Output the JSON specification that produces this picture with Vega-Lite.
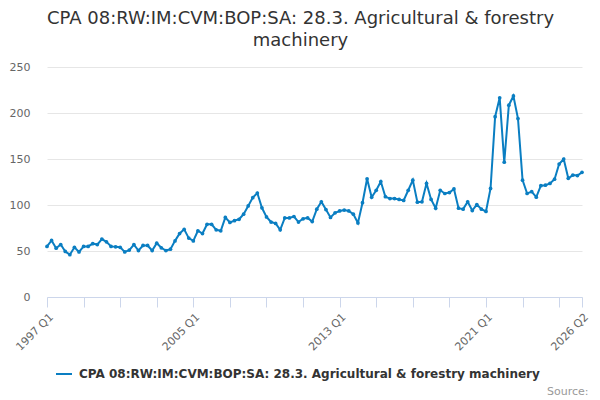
{
  "$schema": "https://vega.github.io/schema/vega-lite/v6.json",
  "width": 535,
  "height": 230,
  "autosize": {"type": "none"},
  "padding": {"left": 47, "top": 67, "right": 18, "bottom": 103},
  "background": "white",
  "title": {
    "text": ["CPA 08:RW:IM:CVM:BOP:SA: 28.3. Agricultural & forestry", "machinery"],
    "font": "DejaVu Sans",
    "fontSize": 18,
    "fontWeight": "normal",
    "color": "#333333",
    "anchor": "middle",
    "dx": -14,
    "offset": 11,
    "lineHeight": 22
  },
  "config": {
    "view": {"stroke": null},
    "font": "DejaVu Sans"
  },
  "data": {
    "values": [
      {"q": "1997 Q1", "v": 55}, {"q": "1997 Q2", "v": 61.5}, {"q": "1997 Q3", "v": 53}, {"q": "1997 Q4", "v": 57},
      {"q": "1998 Q1", "v": 49.5}, {"q": "1998 Q2", "v": 46}, {"q": "1998 Q3", "v": 54}, {"q": "1998 Q4", "v": 49},
      {"q": "1999 Q1", "v": 55}, {"q": "1999 Q2", "v": 55}, {"q": "1999 Q3", "v": 58}, {"q": "1999 Q4", "v": 57},
      {"q": "2000 Q1", "v": 63}, {"q": "2000 Q2", "v": 60}, {"q": "2000 Q3", "v": 55}, {"q": "2000 Q4", "v": 54.5},
      {"q": "2001 Q1", "v": 54}, {"q": "2001 Q2", "v": 49}, {"q": "2001 Q3", "v": 51}, {"q": "2001 Q4", "v": 57},
      {"q": "2002 Q1", "v": 50.5}, {"q": "2002 Q2", "v": 56}, {"q": "2002 Q3", "v": 56}, {"q": "2002 Q4", "v": 50.5},
      {"q": "2003 Q1", "v": 58.5}, {"q": "2003 Q2", "v": 53.5}, {"q": "2003 Q3", "v": 50.5}, {"q": "2003 Q4", "v": 52},
      {"q": "2004 Q1", "v": 61}, {"q": "2004 Q2", "v": 69}, {"q": "2004 Q3", "v": 73.5}, {"q": "2004 Q4", "v": 64},
      {"q": "2005 Q1", "v": 61}, {"q": "2005 Q2", "v": 72}, {"q": "2005 Q3", "v": 69}, {"q": "2005 Q4", "v": 79},
      {"q": "2006 Q1", "v": 79}, {"q": "2006 Q2", "v": 73}, {"q": "2006 Q3", "v": 72}, {"q": "2006 Q4", "v": 86.5},
      {"q": "2007 Q1", "v": 81}, {"q": "2007 Q2", "v": 83}, {"q": "2007 Q3", "v": 84.5}, {"q": "2007 Q4", "v": 90},
      {"q": "2008 Q1", "v": 99}, {"q": "2008 Q2", "v": 108}, {"q": "2008 Q3", "v": 113}, {"q": "2008 Q4", "v": 97},
      {"q": "2009 Q1", "v": 87}, {"q": "2009 Q2", "v": 81.5}, {"q": "2009 Q3", "v": 80}, {"q": "2009 Q4", "v": 73},
      {"q": "2010 Q1", "v": 86}, {"q": "2010 Q2", "v": 86}, {"q": "2010 Q3", "v": 87.5}, {"q": "2010 Q4", "v": 81.5},
      {"q": "2011 Q1", "v": 85}, {"q": "2011 Q2", "v": 86}, {"q": "2011 Q3", "v": 82}, {"q": "2011 Q4", "v": 95.5},
      {"q": "2012 Q1", "v": 103.5}, {"q": "2012 Q2", "v": 95}, {"q": "2012 Q3", "v": 86.5}, {"q": "2012 Q4", "v": 91.5},
      {"q": "2013 Q1", "v": 93.5}, {"q": "2013 Q2", "v": 94.5}, {"q": "2013 Q3", "v": 93.5}, {"q": "2013 Q4", "v": 90},
      {"q": "2014 Q1", "v": 80.5}, {"q": "2014 Q2", "v": 102.5}, {"q": "2014 Q3", "v": 128.5}, {"q": "2014 Q4", "v": 108.5},
      {"q": "2015 Q1", "v": 116}, {"q": "2015 Q2", "v": 125.5}, {"q": "2015 Q3", "v": 109}, {"q": "2015 Q4", "v": 107},
      {"q": "2016 Q1", "v": 107}, {"q": "2016 Q2", "v": 106}, {"q": "2016 Q3", "v": 105}, {"q": "2016 Q4", "v": 116},
      {"q": "2017 Q1", "v": 127}, {"q": "2017 Q2", "v": 103}, {"q": "2017 Q3", "v": 103.5}, {"q": "2017 Q4", "v": 123.5},
      {"q": "2018 Q1", "v": 106}, {"q": "2018 Q2", "v": 96.5}, {"q": "2018 Q3", "v": 116}, {"q": "2018 Q4", "v": 112.5},
      {"q": "2019 Q1", "v": 113.5}, {"q": "2019 Q2", "v": 117.5}, {"q": "2019 Q3", "v": 96.5}, {"q": "2019 Q4", "v": 95.5},
      {"q": "2020 Q1", "v": 103.5}, {"q": "2020 Q2", "v": 94}, {"q": "2020 Q3", "v": 100.5}, {"q": "2020 Q4", "v": 95.5},
      {"q": "2021 Q1", "v": 93}, {"q": "2021 Q2", "v": 118}, {"q": "2021 Q3", "v": 196}, {"q": "2021 Q4", "v": 216.5},
      {"q": "2022 Q1", "v": 146.5}, {"q": "2022 Q2", "v": 208.5}, {"q": "2022 Q3", "v": 218.5}, {"q": "2022 Q4", "v": 194},
      {"q": "2023 Q1", "v": 127}, {"q": "2023 Q2", "v": 112.5}, {"q": "2023 Q3", "v": 114.5}, {"q": "2023 Q4", "v": 108.5},
      {"q": "2024 Q1", "v": 121}, {"q": "2024 Q2", "v": 121.5}, {"q": "2024 Q3", "v": 123.5}, {"q": "2024 Q4", "v": 128},
      {"q": "2025 Q1", "v": 144.5}, {"q": "2025 Q2", "v": 150}, {"q": "2025 Q3", "v": 129}, {"q": "2025 Q4", "v": 132.5},
      {"q": "2026 Q1", "v": 132}, {"q": "2026 Q2", "v": 135.5}
    ]
  },
  "mark": {
    "type": "line",
    "strokeWidth": 2,
    "point": {"filled": true, "size": 14}
  },
  "encoding": {
    "x": {
      "field": "q",
      "type": "ordinal",
      "sort": null,
      "scale": {"type": "point", "padding": 0},
      "axis": {
        "values": ["1997 Q1", "1999 Q1", "2001 Q1", "2003 Q1", "2005 Q1", "2007 Q1", "2009 Q1", "2011 Q1", "2013 Q1", "2015 Q1", "2017 Q1", "2019 Q1", "2021 Q1", "2023 Q1", "2025 Q1", "2026 Q2"],
        "labelExpr": "indexof(['1997 Q1','2005 Q1','2013 Q1','2021 Q1','2026 Q2'], datum.value) >= 0 ? datum.value : ''",
        "labelAngle": -45,
        "labelFontSize": 11,
        "labelColor": "#666666",
        "labelOverlap": false,
        "labelPadding": 4,
        "grid": false,
        "domainColor": "#ccd6eb",
        "tickColor": "#ccd6eb",
        "tickSize": 10,
        "title": "Source:",
        "titleFontSize": 11,
        "titleFontWeight": "normal",
        "titleColor": "#999999",
        "titleAnchor": "end",
        "titleAlign": "right",
        "titleX": 541,
        "titleY": 88
      }
    },
    "y": {
      "field": "v",
      "type": "quantitative",
      "scale": {"domain": [0, 250]},
      "axis": {
        "values": [0, 50, 100, 150, 200, 250],
        "title": null,
        "domain": false,
        "ticks": false,
        "labelPadding": 17,
        "labelFontSize": 11,
        "labelColor": "#666666",
        "gridColor": "#e6e6e6"
      }
    },
    "color": {
      "datum": "CPA 08:RW:IM:CVM:BOP:SA: 28.3. Agricultural & forestry machinery",
      "scale": {"range": ["#0a7ec2"]},
      "legend": {
        "title": null,
        "orient": "none",
        "legendX": 8,
        "legendY": 298,
        "symbolType": "stroke",
        "symbolSize": 256,
        "symbolStrokeWidth": 2,
        "labelFontSize": 12,
        "labelFontWeight": "bold",
        "labelColor": "#333333",
        "labelLimit": 600,
        "labelOffset": 6
      }
    }
  }
}
